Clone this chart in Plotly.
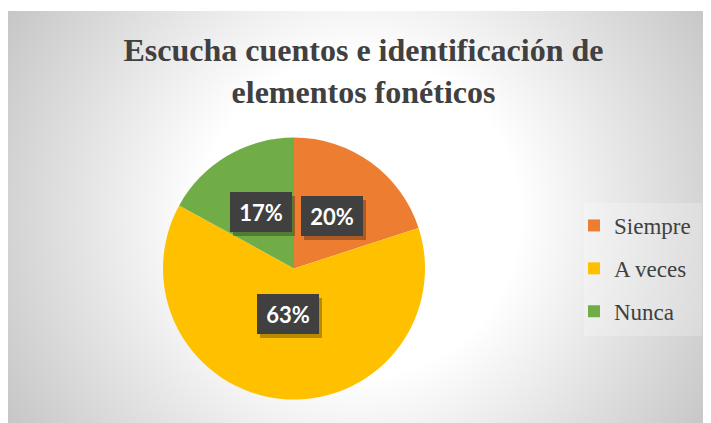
import base64
import math
import struct
import zlib

import numpy as np
import plotly.graph_objects as go

# ---------------- data ----------------
categories = ["Siempre", "A veces", "Nunca"]
values = [20, 63, 17]
colors = ["#ED7D31", "#FFC000", "#70AD47"]
title_lines = ["Escucha cuentos e identificación de", "elementos fonéticos"]

# ---------------- layout constants (page pixels) ----------------
W, H = 711, 423
BODY = 8                            # browser default body margin
FRAME = (8, 11, 711, 423)           # visible chart frame: left, top, right, bottom
LEG_BOX = (584, 203, 702, 336)      # legend box
PIE_CX, PIE_CY, PIE_R = 294, 268.5, 131


def px_x(p):
    return (p - BODY) / W


def px_y(p):
    return 1 - (p - BODY) / H


def make_background_png():
    x0, y0, x1, y1 = FRAME
    ex, ey = BODY + W, BODY + H      # extend to figure edge
    w, h = ex - x0, ey - y0
    yy, xx = np.mgrid[0:h, 0:w].astype(float)
    px = xx + x0 + 0.5
    py = yy + y0 + 0.5
    cx, cy = (x0 + x1) / 2, (y0 + y1) / 2
    rad = math.hypot((x1 - x0) / 2, (y1 - y0) / 2)
    d = np.hypot(px - cx, py - cy) / rad
    t = np.clip((d - 0.39) / 0.61, 0, 1)
    v = 255 - t * (255 - 198)
    lx0, ly0, lx1, ly1 = LEG_BOX
    m = (px >= lx0) & (px <= lx1) & (py >= ly0) & (py <= ly1)
    v = np.where(m, v + 0.22 * (255 - v), v)
    v = np.clip(np.round(v), 0, 255).astype(np.uint8)
    img = np.stack([v, v, v], axis=-1)
    raw = np.concatenate([np.zeros((h, 1), np.uint8), img.reshape(h, w * 3)], axis=1).tobytes()

    def chunk(tag, data):
        return struct.pack(">I", len(data)) + tag + data + struct.pack(">I", zlib.crc32(tag + data) & 0xFFFFFFFF)

    png = b"\x89PNG\r\n\x1a\n"
    png += chunk(b"IHDR", struct.pack(">IIBBBBB", w, h, 8, 2, 0, 0, 0))
    png += chunk(b"IDAT", zlib.compress(raw, 9))
    png += chunk(b"IEND", b"")
    return "data:image/png;base64," + base64.b64encode(png).decode(), w, h


fig = go.Figure()

dom_x = [px_x(PIE_CX - PIE_R), px_x(PIE_CX + PIE_R)]
dom_y = [px_y(PIE_CY + PIE_R), px_y(PIE_CY - PIE_R)]

fig.add_trace(go.Pie(
    labels=categories, values=values,
    marker=dict(colors=colors, line=dict(width=0)),
    sort=False, direction="clockwise", rotation=0,
    textinfo="none", hoverinfo="label+percent",
    showlegend=False, domain=dict(x=dom_x, y=dom_y),
))

# legend entries
for name, col in zip(categories, colors):
    fig.add_trace(go.Scatter(
        x=[None], y=[None], mode="markers", name=name, legendgroup=name,
        marker=dict(symbol="square", size=12, color=col),
    ))

# data labels in dark boxes, placed at half radius on each slice bisector
total = sum(values)
cxp = (dom_x[0] + dom_x[1]) / 2
cyp = (dom_y[0] + dom_y[1]) / 2
cum = 0
for v in values:
    mid = math.radians((cum + v / 2) / total * 360)
    cum += v
    ax = cxp + 0.5 * PIE_R * math.sin(mid) / W
    ay = cyp + 0.5 * PIE_R * math.cos(mid) / H
    label = f"{round(100 * v / total)}%"
    common = dict(x=ax, y=ay, xref="paper", yref="paper", showarrow=False,
                  width=50, height=28, borderpad=6, borderwidth=0)
    fig.add_annotation(text=" ", bgcolor="rgba(0,0,0,0.28)", xshift=3, yshift=-4,
                       font=dict(family="Lato", size=22, color="rgba(0,0,0,0)"), **common)
    fig.add_annotation(text=f"<b>{label}</b>", bgcolor="#404040",
                       font=dict(family="Lato", size=22, color="white"), **common)

img_src, img_w, img_h = make_background_png()

fig.update_layout(
    width=W, height=H,
    margin=dict(l=0, r=0, t=0, b=0),
    paper_bgcolor="white", plot_bgcolor="rgba(0,0,0,0)",
    xaxis=dict(visible=False), yaxis=dict(visible=False),
    title=dict(
        text="<b>" + "<br>".join(title_lines) + "</b>",
        x=px_x(363.5), xanchor="center",
        y=1 - 53 / H, yanchor="top", yref="container",
        font=dict(family="Liberation Serif", size=32, color="#404040"),
    ),
    legend=dict(
        x=566 / W, xanchor="left", y=1 - 196 / H, yanchor="top",
        bgcolor="rgba(0,0,0,0)", traceorder="grouped", tracegroupgap=10,
        font=dict(family="Liberation Serif", size=23, color="#404040"),
    ),
    images=[dict(
        source=img_src, xref="paper", yref="paper",
        x=px_x(FRAME[0]), y=px_y(FRAME[1]),
        sizex=img_w / W, sizey=img_h / H,
        xanchor="left", yanchor="top", sizing="stretch", layer="below",
    )],
)

fig.write_html("out.html")
